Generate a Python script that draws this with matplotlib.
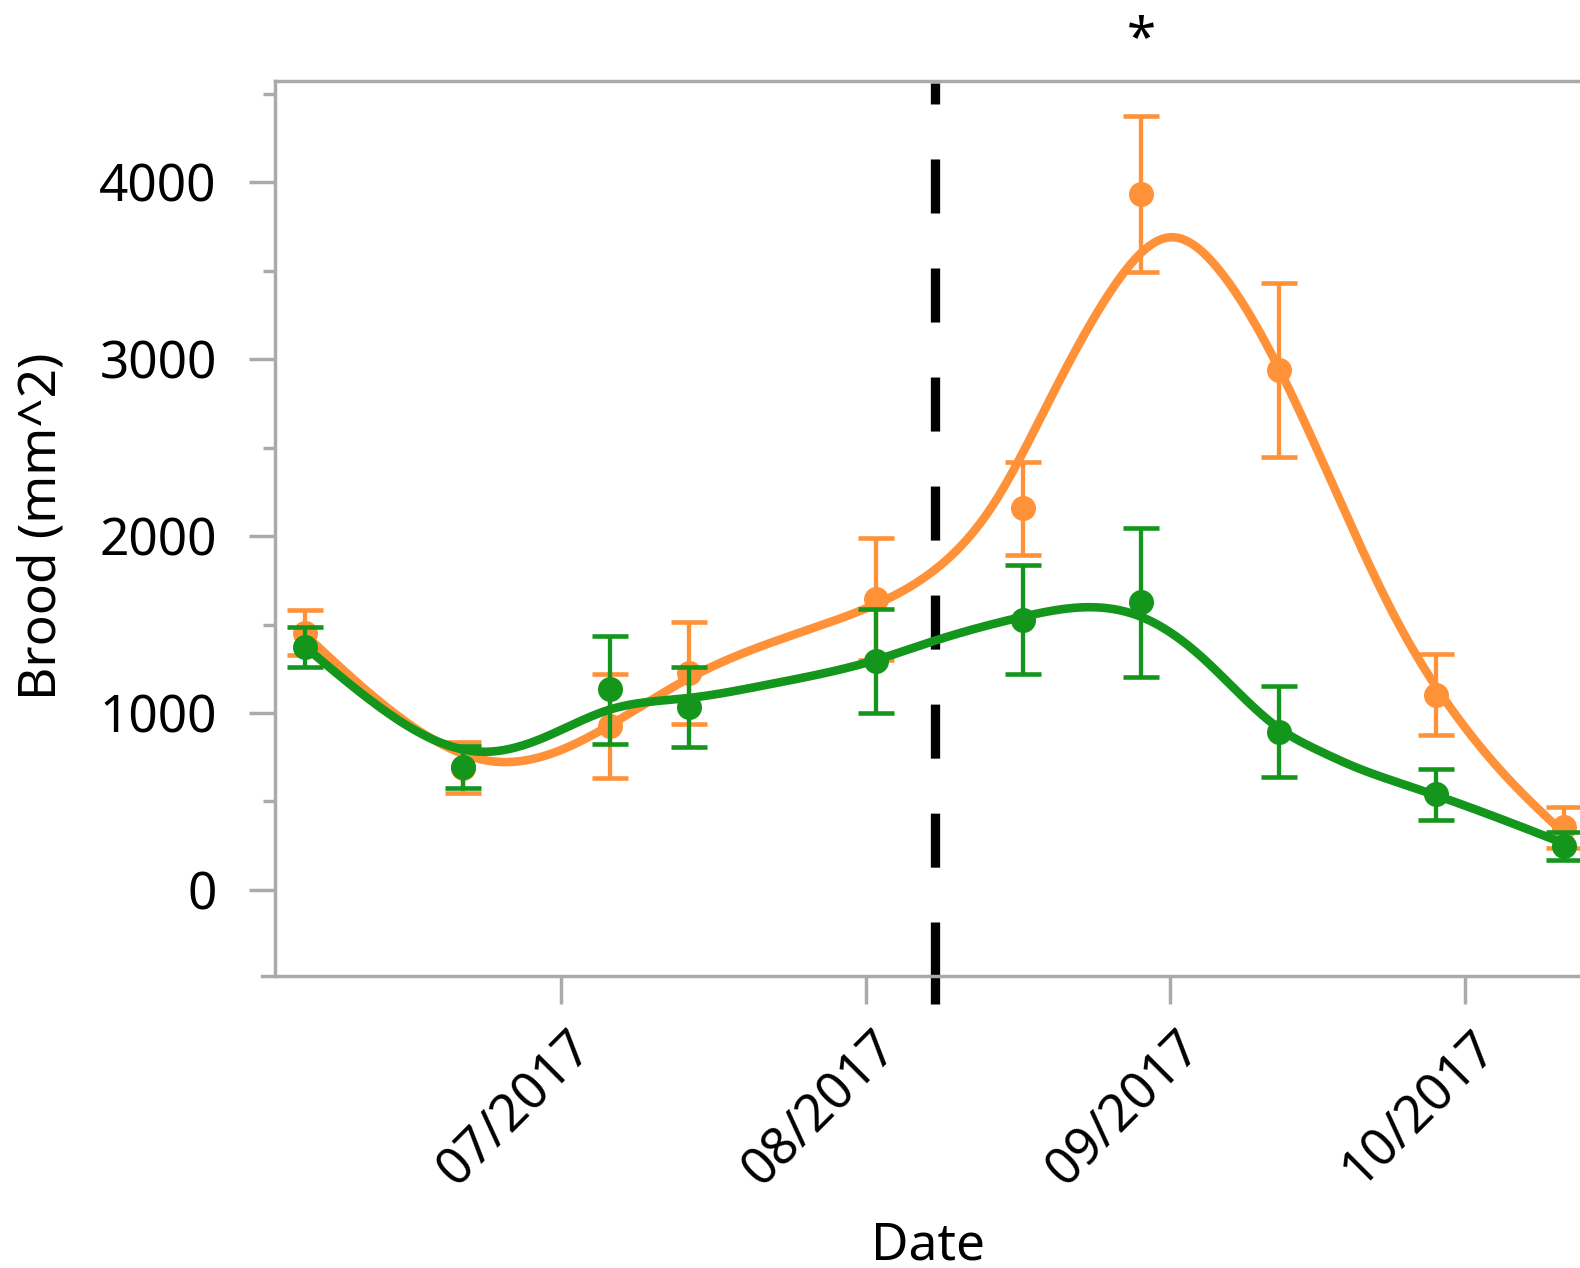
import numpy as np
import pandas as pd
import matplotlib
matplotlib.use('Agg')
import matplotlib.pyplot as plt
import matplotlib.dates as mdates
from matplotlib.ticker import MultipleLocator, FixedLocator
from matplotlib.transforms import ScaledTranslation

ORANGE = '#ff9239'
GREEN = '#13961b'
AXIS_GREY = '#aaaaaa'

plt.rcParams['font.family'] = ['Noto Sans', 'DejaVu Sans']
plt.rcParams['lines.scale_dashes'] = False

# sampling dates
dates = pd.to_datetime(['2017-06-05', '2017-06-21', '2017-07-06', '2017-07-14', '2017-08-02',
                        '2017-08-17', '2017-08-29', '2017-09-12', '2017-09-28', '2017-10-11'])

# orange group: mean and error bar ends
orange_mean = [1454, 692, 924, 1227, 1644, 2156, 3930, 2936, 1104, 355]
orange_hi = [1582, 838, 1219, 1516, 1987, 2420, 4373, 3427, 1333, 471]
orange_lo = [1328, 546, 631, 938, 1301, 1893, 3493, 2445, 876, 235]

# green group
green_mean = [1371, 697, 1133, 1033, 1296, 1525, 1625, 894, 541, 249]
green_hi = [1484, 816, 1437, 1262, 1588, 1836, 2043, 1153, 684, 330]
green_lo = [1258, 578, 825, 806, 1002, 1218, 1202, 637, 396, 169]

# smoothed trend curves
orange_fit_dates = pd.to_datetime(['2017-06-05', '2017-06-12', '2017-06-18', '2017-06-24', '2017-06-30',
                                   '2017-07-06', '2017-07-14', '2017-07-22', '2017-08-01', '2017-08-08',
                                   '2017-08-14', '2017-08-20', '2017-08-26', '2017-09-01', '2017-09-06',
                                   '2017-09-12', '2017-09-18', '2017-09-24', '2017-09-30', '2017-10-05',
                                   '2017-10-11'])
orange_fit = [1441, 1090, 850, 727, 770, 932, 1196, 1390, 1590, 1808,
              2180, 2800, 3390, 3688, 3500, 2950, 2230, 1525, 990, 650, 322]

green_fit_dates = pd.to_datetime(['2017-06-05', '2017-06-12', '2017-06-18', '2017-06-23', '2017-06-29',
                                  '2017-07-06', '2017-07-14', '2017-07-22', '2017-08-02', '2017-08-08',
                                  '2017-08-17', '2017-08-23', '2017-08-29', '2017-09-04', '2017-09-12',
                                  '2017-09-16', '2017-09-20', '2017-09-24', '2017-09-28', '2017-10-11'])
green_fit = [1373, 1056, 850, 781, 855, 1020, 1085, 1160, 1299, 1408,
             1544, 1597, 1544, 1325, 915, 790, 690, 610, 535, 264]

treatment_date = pd.Timestamp('2017-08-08')
star_date = pd.Timestamp('2017-08-29')


def smooth_curve(xd, yv, n=400):
    # natural cubic spline through the read-off trend values
    x = np.asarray((xd - xd[0]) / pd.Timedelta(days=1), dtype=float)
    y = np.asarray(yv, dtype=float)
    k = len(x)
    h = np.diff(x)
    A = np.zeros((k, k))
    b = np.zeros(k)
    A[0, 0] = A[-1, -1] = 1
    for i in range(1, k - 1):
        A[i, i - 1] = h[i - 1]
        A[i, i] = 2 * (h[i - 1] + h[i])
        A[i, i + 1] = h[i]
        b[i] = 3 * ((y[i + 1] - y[i]) / h[i] - (y[i] - y[i - 1]) / h[i - 1])
    c = np.linalg.solve(A, b)
    bb = (y[1:] - y[:-1]) / h - h * (2 * c[:-1] + c[1:]) / 3
    d = (c[1:] - c[:-1]) / (3 * h)
    xs = np.linspace(x[0], x[-1], n)
    idx = np.clip(np.searchsorted(x, xs) - 1, 0, k - 2)
    t = xs - x[idx]
    ys = y[idx] + bb[idx] * t + c[idx] * t ** 2 + d[idx] * t ** 3
    return xd[0] + pd.to_timedelta(xs, unit='D'), ys


fig = plt.figure(figsize=(15.8, 12.68), dpi=100)
ax = fig.add_axes([275 / 1580, 1 - 976 / 1268, 1 - 275 / 1580, (976 - 81) / 1268])

# vertical dashed marker
ax.plot([treatment_date, treatment_date], [4559, -181], color='black', lw=6.7,
        linestyle=(23.8, (38.9, 39.6)), clip_on=False, zorder=1, solid_capstyle='butt')
ax.plot([treatment_date, treatment_date], [-181, -644], color='black', lw=6.7,
        clip_on=False, zorder=1, solid_capstyle='butt')

for mean, hi, lo, fd, fv, col, z in [(orange_mean, orange_hi, orange_lo, orange_fit_dates, orange_fit, ORANGE, 2),
                                     (green_mean, green_hi, green_lo, green_fit_dates, green_fit, GREEN, 5)]:
    mean = np.array(mean)
    yerr = [mean - np.array(lo), np.array(hi) - mean]
    ax.errorbar(dates, mean, yerr=yerr, fmt='o', color=col, ms=17, elinewidth=3.1,
                capsize=13.2, capthick=3.3, zorder=z)
    cx, cy = smooth_curve(fd, fv)
    ax.plot(cx, cy, color=col, lw=6.2, zorder=z + 1, solid_capstyle='butt')

ax.text(star_date, 4800, '*', ha='center', va='center', fontsize=38, fontweight='bold',
        clip_on=False)

# axes
july1 = pd.Timestamp('2017-07-01')
ax.set_xlim(july1 - pd.Timedelta(days=29.09), july1 + pd.Timedelta(days=103.66))
ax.set_ylim(-486, 4571)

ax.xaxis.set_major_locator(mdates.MonthLocator())
ax.xaxis.set_major_formatter(mdates.DateFormatter('%m/%Y'))
ax.yaxis.set_major_locator(FixedLocator([0, 1000, 2000, 3000, 4000]))
ax.yaxis.set_minor_locator(MultipleLocator(500))

for s in ['top', 'left', 'bottom']:
    ax.spines[s].set_color(AXIS_GREY)
    ax.spines[s].set_linewidth(2.5)
ax.spines['right'].set_visible(False)
x0, x1 = ax.get_xlim()
ax.spines['bottom'].set_bounds(x0 - 1.32, x1)

ax.tick_params(axis='both', which='both', color=AXIS_GREY, width=2.5, labelsize=37)
ax.tick_params(axis='y', which='major', length=19, pad=23)
ax.tick_params(axis='y', which='minor', length=9)
ax.tick_params(axis='x', which='major', length=20, pad=26)

offset = ScaledTranslation(17 / 72, 0, fig.dpi_scale_trans)
for lab in ax.get_xticklabels():
    lab.set_rotation(45)
    lab.set_ha('right')
    lab.set_va('center')
    lab.set_rotation_mode('anchor')
    lab.set_transform(lab.get_transform() + offset)

fig.text(42 / 1580, 1 - 526 / 1268, 'Brood (mm^2)', rotation=90, ha='center', va='center', fontsize=37)
fig.text(928 / 1580, 1 - 1259 / 1268, 'Date', ha='center', va='baseline', fontsize=37)

fig.savefig('out.png', dpi=100)
